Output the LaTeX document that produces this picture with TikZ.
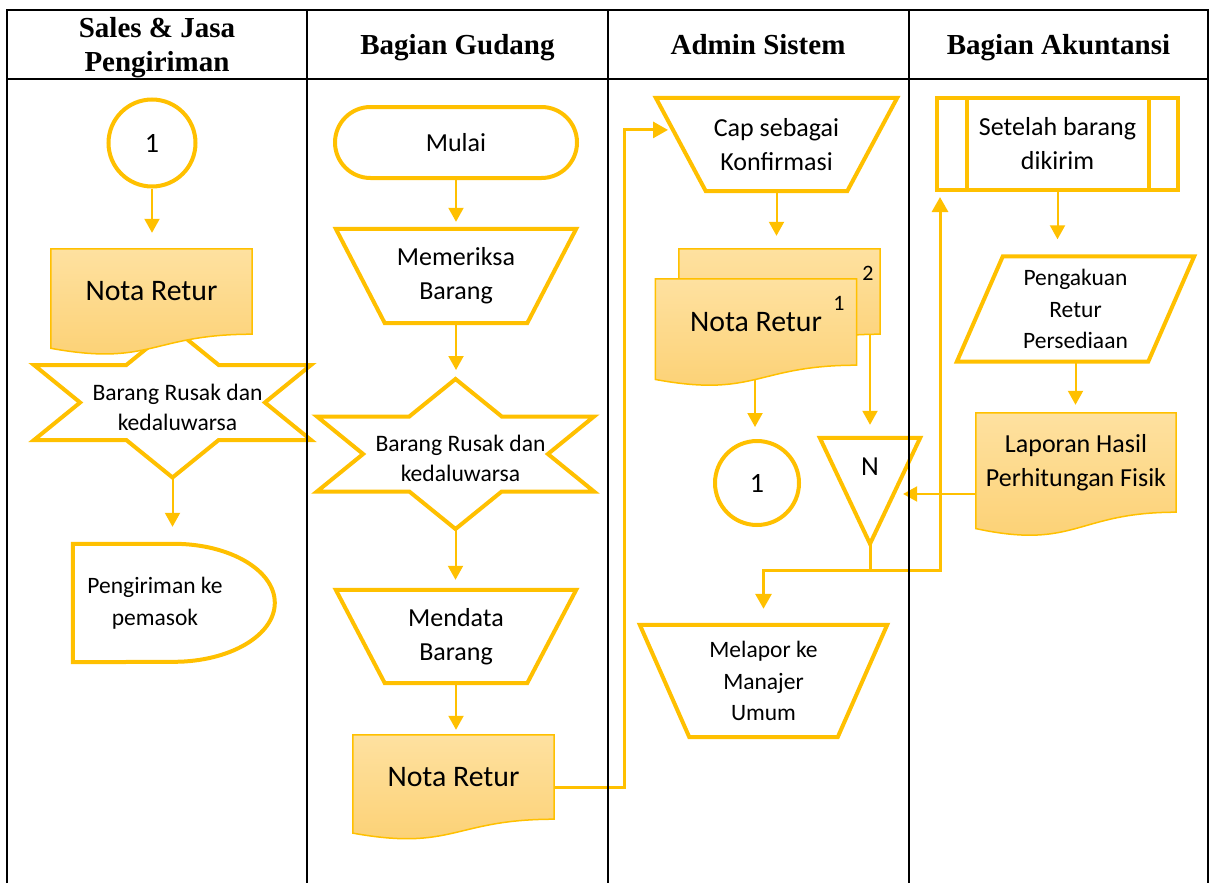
\documentclass[tikz,border=0pt]{standalone}
\usepackage{fontspec}
\setmainfont{Carlito}
\newfontfamily\headfont{Liberation Serif}
\usetikzlibrary{calc,arrows.meta}

\definecolor{gold}{RGB}{255,192,0}
\definecolor{doctop}{RGB}{254,225,160}
\definecolor{docbot}{RGB}{252,208,114}

\pgfdeclarelayer{shapes}
\pgfdeclarelayer{rules}
\pgfsetlayers{shapes,main,rules}

% document symbol; the node box ends at the right-hand foot of the wavy bottom
\newcommand\docsymbol[1]{%
  \path[docfill] (#1.north west) -- (#1.north east) -- (#1.south east)
    .. controls (#1.south) and ($(#1.north)!1.381!(#1.south)$)
    .. ($(#1.north west)!1.165!(#1.south west)$) -- cycle;}
% manual operation: wide top edge, narrow bottom edge
\newcommand\manualop[2]{%
  \path[outline] (#1.north west) -- (#1.north east)
    -- ($(#1.south east)+(-#2,0)$) -- ($(#1.south west)+(#2,0)$) -- cycle;}
% six-pointed star; its centre sits a little up and left of the text
\newcommand\hexstar[1]{%
  \path[outline] ($(#1.center)+(-5,-79.5)$) -- ++(46.2,37.5) -- ++(92.3,0)
    -- ++(-46.1,37.5) -- ++(46.1,37.5) -- ++(-92.3,0) -- ++(-46.2,37.5)
    -- ++(-46.2,-37.5) -- ++(-92.3,0) -- ++(46.1,-37.5) -- ++(-46.1,-37.5)
    -- ++(92.3,0) -- cycle;}

\tikzset{
  every node/.style={inner sep=0pt, align=center},
  holder/.style={rectangle, draw=none},
  outline/.style={draw=gold, fill=white, line width=4pt, line join=miter},
  docfill/.style={draw=gold, line width=1.5pt, top color=doctop, bottom color=docbot},
  conn/.style={draw=gold, line width=2pt, -{Triangle[width=15pt,length=14pt]}},
  elbow/.style={draw=gold, line width=3pt, -{Triangle[width=16pt,length=15pt]}},
  tableline/.style={draw=black, line width=2pt},
  headtxt/.style={font=\headfont\bfseries\fontsize{29}{34}\selectfont},
  bigtxt/.style={font=\fontsize{29.8}{35}\selectfont},
  midtxt/.style={font=\fontsize{26}{34}\selectfont},
  smltxt/.style={font=\fontsize{23.6}{30}\selectfont},
  lbltxt/.style={font=\fontsize{23.5}{31.5}\selectfont},
  deltxt/.style={font=\fontsize{23.5}{32}\selectfont},
  numtxt/.style={font=\fontsize{28}{30}\selectfont},
  suptxt/.style={font=\fontsize{22}{24}\selectfont},
}

\begin{document}
\begin{tikzpicture}[x=1pt,y=-1pt]
\useasboundingbox (0,0) rectangle (1214,883);

% lane titles
\node[headtxt] (h1) at (157,47.5) {Sales \& Jasa\\Pengiriman};
\node[headtxt, anchor=base] (h2) at (457.5,55) {Bagian Gudang};
\node[headtxt, anchor=base] (h3) at (758,55) {Admin Sistem};
\node[headtxt, anchor=base] (h4) at (1058.5,55) {Bagian Akuntansi};

% lane 1: Sales & Jasa Pengiriman
\node[outline, circle, minimum size=87pt, numtxt] (c1) at (152,143) {1};
\node[holder, minimum width=201pt, minimum height=85pt, bigtxt] (d1) at (151.5,291.5) {Nota Retur};
\node[holder, minimum width=277pt, minimum height=150pt, smltxt] (s1) at (177.5,407) {Barang Rusak dan\\kedaluwarsa};
\node[holder, minimum width=164pt, minimum height=118pt, deltxt] (p1) at (155,603) {Pengiriman ke\\pemasok};

% lane 2: Bagian Gudang
\node[outline, rectangle, rounded corners=35.5pt, minimum width=242pt, minimum height=71pt, midtxt] (t1) at (456,142.5) {Mulai};
\node[holder, minimum width=240pt, minimum height=94pt, midtxt] (m1) at (456,276) {Memeriksa\\Barang};
\node[holder, minimum width=277pt, minimum height=150pt, smltxt] (s2) at (460.5,458.5) {Barang Rusak dan\\kedaluwarsa};
\node[holder, minimum width=240pt, minimum height=93pt, midtxt] (m2) at (456,636.5) {Mendata\\Barang};
\node[holder, minimum width=201pt, minimum height=84pt, bigtxt] (d2) at (453.5,777) {Nota Retur};

% lane 3: Admin Sistem
\node[holder, minimum width=241pt, minimum height=93pt, midtxt] (k1) at (776.5,144.5) {Cap sebagai\\Konfirmasi};
\node[holder, minimum width=201pt, minimum height=85pt] (d3b) at (779.5,291.5) {};
\node[holder, minimum width=201pt, minimum height=86pt, bigtxt] (d3) at (756,322) {Nota Retur};
\node[suptxt] (n2) at (868,273) {2};
\node[suptxt] (n1) at (839,303) {1};
\node[outline, circle, minimum size=84pt, numtxt] (c2) at (757,483) {1};
\node[holder, minimum width=100pt, minimum height=58pt, font=\fontsize{27.5}{30}\selectfont] (tri) at (870,467) {N};
\node[holder, minimum width=247pt, minimum height=112pt, lbltxt] (r1) at (763.5,681) {Melapor ke\\Manajer\\Umum};

% lane 4: Bagian Akuntansi
\node[outline, rectangle, minimum width=241pt, minimum height=92pt, midtxt] (sb) at (1057.5,144) {Setelah barang\\dikirim};
\draw[gold, line width=4pt] ($(sb.north west)+(32,0)$) -- ($(sb.south west)+(32,0)$);
\draw[gold, line width=4pt] ($(sb.north east)+(-31,0)$) -- ($(sb.south east)+(-31,0)$);
\node[holder, minimum width=237pt, minimum height=105pt, lbltxt] (pa) at (1075.5,309) {Pengakuan\\Retur\\Persediaan};
\node[holder, minimum width=200pt, minimum height=99pt, midtxt] (d4) at (1076,462.5) {Laporan Hasil\\Perhitungan Fisik};

% helper points on shape borders
\coordinate (s1bot) at ($(s1.center)+(-5,70.5)$);
\coordinate (s2top) at ($(s2.center)+(-5,-79.5)$);
\coordinate (s2bot) at ($(s2.center)+(-5,70.5)$);
\coordinate (tritip) at ($(tri.north)+(0,106)$);
\coordinate (jn) at ($(tritip)+(0,27)$);
\coordinate (triR) at ($(tri.north east)!0.53!(tritip)$);
\coordinate (d3w) at ($(d3.south)+(-1,14)$);
\coordinate (d2o) at ($(d2.east)+(0,10)$);
\coordinate (k1bl) at ($(k1.south west)+(50,0)$);
\coordinate (k1in) at ($(k1.north west)!0.344!(k1bl)$);
\coordinate (sbin) at ($(sb.south west)+(5,0)$);

% symbol outlines, behind the texts
\begin{pgfonlayer}{shapes}
  \hexstar{s1}
  \docsymbol{d1}
  \path[outline] (p1.north west) -- ++(101,0)
     .. controls +(55.8,0) and +(0,-32.6) .. ++(101,59)
     .. controls +(0,32.6) and +(55.8,0) .. ++(-101,59)
     -- (p1.south west) -- cycle;
  \manualop{m1}{49}
  \hexstar{s2}
  \manualop{m2}{49}
  \docsymbol{d2}
  \manualop{k1}{50}
  \docsymbol{d3b}
  \docsymbol{d3}
  \path[outline] (tri.north west) -- (tri.north east) -- (tritip) -- cycle;
  \manualop{r1}{49.5}
  \path[outline] (pa.south west) -- ($(pa.north west)+(46,0)$) -- (pa.north east)
     -- ($(pa.south east)+(-46,0)$) -- cycle;
  \docsymbol{d4}
\end{pgfonlayer}

% flow connectors
\draw[conn, shorten >=16pt] (c1.south) -- (c1.south |- d1.north);
\draw[conn, shorten >=17pt] (s1bot) -- (s1bot |- p1.north);
\draw[conn, shorten >=7pt] (t1.south) -- (t1.south |- m1.north);
\draw[conn, shorten >=9pt] (m1.south) -- (m1.south |- s2top);
\draw[conn, shorten >=10pt] (s2bot) -- (s2bot |- m2.north);
\draw[conn, shorten >=5pt] (m2.south) -- (m2.south |- d2.north);
\draw[conn, shorten >=13pt] (k1.south) -- (k1.south |- d3b.north);
\draw[conn, shorten >=12pt] (d3w) -- (d3w |- c2.north);
\draw[conn, shorten >=13pt] (tri.north |- d3b.south) -- (tri.north);
\draw[conn, shorten >=9.5pt] (d4.west |- triR) -- (triR);
\draw[conn, shorten >=17pt] (sb.south) -- (sb.south |- pa.north);
\draw[conn, shorten >=8pt] (pa.south) -- (pa.south |- d4.north);
\draw[elbow, shorten >=5pt] (d2o) -- ++(70,0) |- (k1in);
\draw[elbow, shorten >=16pt] (tritip) -- (jn) -| (r1.north);
\draw[elbow, shorten >=5pt] (jn) -| (sbin);

% table rules
\begin{pgfonlayer}{rules}
  \draw[tableline] (7,883) -- (7,10) -- (1208,10) -- (1208,883);
  \draw[tableline] (7,78.5) -- (1208,78.5);
  \foreach \cx in {307,607.5,909} \draw[tableline] (\cx,10) -- (\cx,883);
\end{pgfonlayer}
\end{tikzpicture}
\end{document}
